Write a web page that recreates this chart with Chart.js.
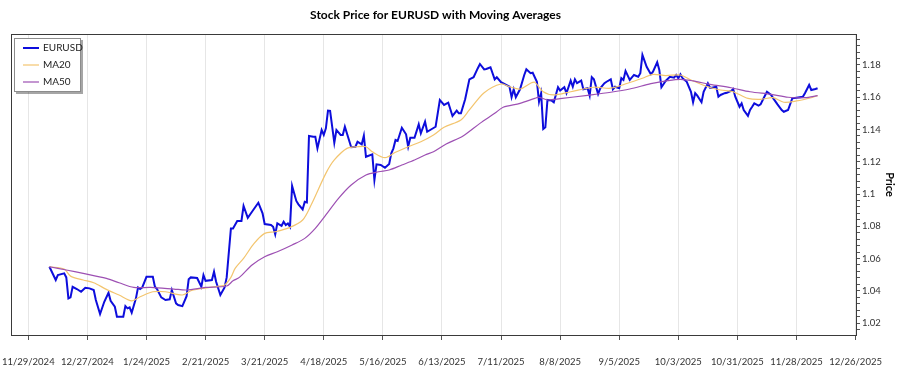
<!DOCTYPE html>
<html>
<head>
<meta charset="utf-8">
<title>Stock Price for EURUSD with Moving Averages</title>
<script src="https://cdn.jsdelivr.net/npm/chart.js@4.4.1/dist/chart.umd.min.js"></script>
<style>
  html, body { margin: 0; padding: 0; background: #fff; }
  #priceChart { display: block; }
</style>
</head>
<body>
<canvas id="priceChart" width="900" height="375"></canvas>
<script>
// Data
const priceDates = [
    '2024-12-09','2024-12-12','2024-12-13','2024-12-16','2024-12-17','2024-12-18','2024-12-19','2024-12-20','2024-12-22','2024-12-24',
    '2024-12-26','2024-12-28','2024-12-30','2024-12-31','2025-01-02','2025-01-04','2025-01-06','2025-01-07','2025-01-09','2025-01-10',
    '2025-01-13','2025-01-14','2025-01-15','2025-01-16','2025-01-17','2025-01-19','2025-01-20','2025-01-21','2025-01-22','2025-01-24',
    '2025-01-27','2025-01-28','2025-01-29','2025-01-31','2025-02-02','2025-02-04','2025-02-05','2025-02-07','2025-02-08','2025-02-10',
    '2025-02-12','2025-02-13','2025-02-14','2025-02-17','2025-02-19','2025-02-20','2025-02-21','2025-02-24','2025-02-25','2025-02-26',
    '2025-02-28','2025-03-02','2025-03-03','2025-03-05','2025-03-06','2025-03-08','2025-03-10','2025-03-11','2025-03-13','2025-03-15',
    '2025-03-18','2025-03-20','2025-03-21','2025-03-24','2025-03-25','2025-03-26','2025-03-27','2025-03-29','2025-03-30','2025-03-31',
    '2025-04-01','2025-04-02','2025-04-03','2025-04-05','2025-04-06','2025-04-08','2025-04-09','2025-04-10','2025-04-11','2025-04-13',
    '2025-04-14','2025-04-15','2025-04-17','2025-04-18','2025-04-19','2025-04-20','2025-04-21','2025-04-23','2025-04-24','2025-04-26',
    '2025-04-27','2025-04-28','2025-05-01','2025-05-03','2025-05-04','2025-05-06','2025-05-07','2025-05-08','2025-05-11','2025-05-12',
    '2025-05-13','2025-05-15','2025-05-17','2025-05-19','2025-05-20','2025-05-21','2025-05-22','2025-05-23','2025-05-25','2025-05-27',
    '2025-05-28','2025-05-29','2025-05-31','2025-06-02','2025-06-03','2025-06-05','2025-06-06','2025-06-10','2025-06-12','2025-06-14',
    '2025-06-16','2025-06-18','2025-06-20','2025-06-21','2025-06-22','2025-06-24','2025-06-26','2025-06-28','2025-06-30','2025-07-01',
    '2025-07-03','2025-07-04','2025-07-06','2025-07-08','2025-07-09','2025-07-11','2025-07-13','2025-07-15','2025-07-16','2025-07-17',
    '2025-07-18','2025-07-19','2025-07-20','2025-07-22','2025-07-23','2025-07-25','2025-07-26','2025-07-28','2025-07-29','2025-07-30',
    '2025-07-31','2025-08-01','2025-08-02','2025-08-04','2025-08-05','2025-08-07','2025-08-08','2025-08-10','2025-08-11','2025-08-13',
    '2025-08-14','2025-08-15','2025-08-16','2025-08-18','2025-08-19','2025-08-21','2025-08-22','2025-08-23','2025-08-24','2025-08-26',
    '2025-08-27','2025-08-29','2025-08-30','2025-09-01','2025-09-02','2025-09-03','2025-09-05','2025-09-06','2025-09-07','2025-09-08',
    '2025-09-10','2025-09-12','2025-09-14','2025-09-15','2025-09-16','2025-09-18','2025-09-20','2025-09-21','2025-09-23','2025-09-24',
    '2025-09-25','2025-09-27','2025-09-29','2025-10-01','2025-10-02','2025-10-03','2025-10-04','2025-10-05','2025-10-07','2025-10-09',
    '2025-10-10','2025-10-11','2025-10-12','2025-10-14','2025-10-15','2025-10-17','2025-10-18','2025-10-19','2025-10-21','2025-10-22',
    '2025-10-23','2025-10-25','2025-10-26','2025-10-28','2025-10-29','2025-10-30','2025-11-01','2025-11-02','2025-11-03','2025-11-05',
    '2025-11-06','2025-11-07','2025-11-08','2025-11-10','2025-11-11','2025-11-12','2025-11-14','2025-11-16','2025-11-17','2025-11-19',
    '2025-11-21','2025-11-22','2025-11-24','2025-11-26','2025-11-28','2025-12-01','2025-12-02','2025-12-04','2025-12-05','2025-12-07',
    '2025-12-08'
];
const priceValues = [
    1.0549,1.0467,1.0498,1.0508,1.0483,1.0353,1.0359,1.0425,1.0411,1.0394,
    1.0419,1.0415,1.0405,1.0343,1.0256,1.0332,1.0388,1.0338,1.0301,1.0239,
    1.0239,1.0305,1.0291,1.0297,1.0264,1.0353,1.0421,1.0411,1.0421,1.0487,
    1.0487,1.0425,1.0411,1.0359,1.0343,1.0347,1.0405,1.0322,1.0312,1.0305,
    1.0367,1.0471,1.0483,1.0479,1.0425,1.0498,1.0462,1.0467,1.0518,1.0456,
    1.0374,1.0421,1.0483,1.0787,1.0787,1.0833,1.0833,1.0926,1.0853,1.0890,
    1.0946,1.0880,1.0814,1.0808,1.0797,1.0750,1.0818,1.0803,1.0828,1.0808,
    1.0818,1.0797,1.1050,1.0957,1.0936,1.0905,1.0952,1.0948,1.1360,1.1355,
    1.1355,1.1283,1.1397,1.1366,1.1407,1.1517,1.1515,1.1318,1.1397,1.1366,
    1.1366,1.1417,1.1290,1.1293,1.1324,1.1308,1.1362,1.1231,1.1246,1.1087,
    1.1184,1.1180,1.1163,1.1186,1.1252,1.1283,1.1335,1.1329,1.1411,1.1370,
    1.1293,1.1349,1.1349,1.1432,1.1376,1.1448,1.1386,1.1417,1.1583,1.1552,
    1.1566,1.1484,1.1517,1.1500,1.1500,1.1587,1.1711,1.1724,1.1780,1.1806,
    1.1773,1.1775,1.1786,1.1711,1.1724,1.1693,1.1680,1.1665,1.1600,1.1649,
    1.1600,1.1625,1.1649,1.1738,1.1773,1.1749,1.1752,1.1696,1.1572,1.1625,
    1.1403,1.1414,1.1583,1.1579,1.1569,1.1662,1.1641,1.1662,1.1625,1.1703,
    1.1665,1.1711,1.1687,1.1703,1.1649,1.1656,1.1610,1.1724,1.1711,1.1620,
    1.1655,1.1687,1.1696,1.1711,1.1649,1.1665,1.1656,1.1718,1.1707,1.1763,
    1.1707,1.1738,1.1727,1.1749,1.1862,1.1789,1.1742,1.1758,1.1817,1.1769,
    1.1662,1.1701,1.1727,1.1721,1.1738,1.1718,1.1742,1.1718,1.1696,1.1634,
    1.1569,1.1625,1.1610,1.1569,1.1634,1.1687,1.1659,1.1659,1.1665,1.1603,
    1.1614,1.1625,1.1628,1.1639,1.1651,1.1603,1.1541,1.1562,1.1521,1.1484,
    1.1521,1.1541,1.1562,1.1548,1.1556,1.1583,1.1634,1.1614,1.1593,1.1556,
    1.1521,1.1510,1.1521,1.1593,1.1597,1.1603,1.1625,1.1676,1.1645,1.1651,
    1.1656
];

const ma20Dates = [
    '2024-12-09','2024-12-16','2024-12-19','2024-12-25','2024-12-30','2025-01-05','2025-01-11','2025-01-17','2025-01-21','2025-01-27',
    '2025-02-02','2025-02-10','2025-02-14','2025-02-18','2025-02-25','2025-03-02','2025-03-05','2025-03-07','2025-03-11','2025-03-16',
    '2025-03-21','2025-03-26','2025-04-02','2025-04-08','2025-04-12','2025-04-19','2025-04-23','2025-04-29','2025-05-04','2025-05-08',
    '2025-05-11','2025-05-17','2025-05-22','2025-05-28','2025-06-03','2025-06-09','2025-06-14','2025-06-22','2025-06-26','2025-07-03',
    '2025-07-11','2025-07-15','2025-07-20','2025-07-25','2025-07-27','2025-07-31','2025-08-05','2025-08-13','2025-08-24','2025-09-01',
    '2025-09-09','2025-09-16','2025-09-21','2025-09-27','2025-10-04','2025-10-09','2025-10-17','2025-10-23','2025-10-29','2025-11-05',
    '2025-11-11','2025-11-17','2025-11-22','2025-11-28','2025-12-05','2025-12-08'
];
const ma20Values = [
    1.0549,1.0535,1.0491,1.0467,1.0450,1.0409,1.0374,1.0338,1.0363,1.0394,
    1.0394,1.0374,1.0400,1.0411,1.0425,1.0436,1.0483,1.0539,1.0601,1.0694,
    1.0756,1.0766,1.0793,1.0839,1.0932,1.1128,1.1211,1.1283,1.1293,1.1293,
    1.1262,1.1225,1.1259,1.1293,1.1324,1.1366,1.1414,1.1459,1.1521,1.1628,
    1.1682,1.1665,1.1651,1.1687,1.1693,1.1634,1.1614,1.1634,1.1662,1.1656,
    1.1687,1.1718,1.1742,1.1734,1.1738,1.1707,1.1665,1.1645,1.1634,1.1593,
    1.1587,1.1597,1.1569,1.1577,1.1597,1.1610
];

const ma50Dates = [
    '2024-12-09','2024-12-17','2024-12-25','2025-01-05','2025-01-11','2025-01-18','2025-01-26','2025-02-06','2025-02-12','2025-02-21',
    '2025-03-03','2025-03-06','2025-03-09','2025-03-15','2025-03-21','2025-03-27','2025-04-03','2025-04-09','2025-04-14','2025-04-19',
    '2025-04-25','2025-05-01','2025-05-08','2025-05-14','2025-05-19','2025-05-25','2025-05-31','2025-06-05','2025-06-09','2025-06-15',
    '2025-06-23','2025-07-01','2025-07-08','2025-07-12','2025-07-20','2025-07-27','2025-07-29','2025-08-02','2025-08-08','2025-08-21',
    '2025-09-01','2025-09-10','2025-09-20','2025-09-28','2025-10-04','2025-10-10','2025-10-18','2025-10-28','2025-11-06','2025-11-16',
    '2025-11-24','2025-12-02','2025-12-08'
];
const ma50Values = [
    1.0549,1.0529,1.0508,1.0477,1.0450,1.0421,1.0421,1.0411,1.0405,1.0421,
    1.0430,1.0462,1.0483,1.0560,1.0611,1.0642,1.0684,1.0725,1.0787,1.0870,
    1.0973,1.1056,1.1118,1.1138,1.1149,1.1180,1.1211,1.1242,1.1262,1.1310,
    1.1360,1.1438,1.1500,1.1538,1.1562,1.1593,1.1600,1.1583,1.1591,1.1612,
    1.1631,1.1651,1.1684,1.1703,1.1711,1.1701,1.1680,1.1659,1.1634,1.1618,
    1.1600,1.1597,1.1610
];

// Axis ticks
const xTickLabels = ['11/29/2024','12/27/2024','1/24/2025','2/21/2025','3/21/2025','4/18/2025','5/16/2025','6/13/2025',
    '7/11/2025','8/8/2025','9/5/2025','10/3/2025','10/31/2025','11/28/2025','12/26/2025'];
const yTickLabels = [1.02, 1.04, 1.06, 1.08, 1.1, 1.12, 1.14, 1.16, 1.18];

// Date helpers (x axis is in days)
const DAY = 86400000;
const isoToDay = s => { const p = s.split('-'); return Date.UTC(+p[0], p[1] - 1, +p[2]) / DAY; };
const labelToDay = s => { const p = s.split('/'); return Date.UTC(+p[2], p[0] - 1, +p[1]) / DAY; };
const dayToLabel = d => { const t = new Date(Math.round(d) * DAY); return `${t.getUTCMonth() + 1}/${t.getUTCDate()}/${t.getUTCFullYear()}`; };
const toPoints = (dates, values) => dates.map((d, i) => ({ x: isoToDay(d), y: values[i] }));

const firstDay = isoToDay(priceDates[0]);
const lastDay = isoToDay(priceDates[priceDates.length - 1]);
const xPad = (lastDay - firstDay) * 0.05;

const FONT = 'Lato, "Noto Sans", sans-serif';
const seriesColors = { price: '#0d0ddc', ma20: '#f3c56f', ma50: '#9d50b3' };

// Plot frame + title + legend drawn on the canvas
const framePlugin = {
    id: 'frame',
    afterDraw(chart) {
        const { ctx, chartArea: a } = chart;
        ctx.save();
        ctx.strokeStyle = '#3a3a3a';
        ctx.lineWidth = 1;
        ctx.strokeRect(Math.round(a.left) + 0.5, Math.round(a.top) + 0.5, Math.round(a.right - a.left), Math.round(a.bottom - a.top));

        // title
        ctx.fillStyle = '#000';
        ctx.font = `bold 12px ${FONT}`;
        ctx.textAlign = 'center';
        ctx.textBaseline = 'middle';
        ctx.fillText('Stock Price for EURUSD with Moving Averages', (a.left + a.right) / 2 + 2, 15);

        // legend box
        const bx = a.left + 3, by = a.top + 4, bw = 67, bh = 54;
        ctx.fillStyle = 'rgba(0,0,0,0.35)';
        ctx.fillRect(bx + 2, by + 2, bw, bh);
        ctx.fillStyle = '#fff';
        ctx.fillRect(bx, by, bw, bh);
        ctx.strokeStyle = '#8c8c8c';
        ctx.strokeRect(bx + 0.5, by + 0.5, bw - 1, bh - 1);

        const items = [
            { text: 'EURUSD', color: seriesColors.price, width: 2 },
            { text: 'MA20', color: seriesColors.ma20, width: 1.2 },
            { text: 'MA50', color: seriesColors.ma50, width: 1.2 }
        ];
        ctx.font = `10px ${FONT}`;
        ctx.textAlign = 'left';
        items.forEach((it, i) => {
            const y = by + 10 + i * 17;
            ctx.strokeStyle = it.color;
            ctx.lineWidth = it.width;
            ctx.beginPath();
            ctx.moveTo(bx + 9, y);
            ctx.lineTo(bx + 25, y);
            ctx.stroke();
            ctx.fillStyle = '#222';
            ctx.fillText(it.text, bx + 29, y);
        });
        ctx.restore();
    }
};

// Price Chart
const ctx = document.getElementById('priceChart').getContext('2d');
new Chart(ctx, {
    type: 'line',
    data: {
        datasets: [
            {
                label: 'MA50',
                data: toPoints(ma50Dates, ma50Values),
                borderColor: seriesColors.ma50,
                borderWidth: 1.2,
                pointRadius: 0,
                tension: 0.3
            },
            {
                label: 'MA20',
                data: toPoints(ma20Dates, ma20Values),
                borderColor: seriesColors.ma20,
                borderWidth: 1.2,
                pointRadius: 0,
                tension: 0.3
            },
            {
                label: 'EURUSD',
                data: toPoints(priceDates, priceValues),
                borderColor: seriesColors.price,
                borderWidth: 2,
                pointRadius: 0,
                tension: 0
            }
        ]
    },
    options: {
        responsive: false,
        animation: false,
        layout: { padding: { left: 11, top: 34, right: 0, bottom: 0 } },
        plugins: {
            legend: { display: false },
            title: { display: false },
            tooltip: { enabled: false }
        },
        scales: {
            x: {
                type: 'linear',
                min: firstDay - xPad,
                max: lastDay + xPad,
                afterBuildTicks: scale => {
                    scale.ticks = xTickLabels.map(l => ({ value: labelToDay(l) }));
                },
                afterFit: scale => {
                    scale.height = 40;
                    scale.paddingLeft = 0;
                    scale.paddingRight = 0;
                },
                ticks: {
                    callback: v => dayToLabel(v),
                    maxRotation: 0,
                    autoSkip: false,
                    padding: 16,
                    color: '#333',
                    font: { family: FONT, size: 9.5 }
                },
                grid: {
                    color: '#e6e6e6',
                    tickColor: '#555',
                    tickLength: 5
                },
                border: { display: false }
            },
            y: {
                position: 'right',
                min: 1.0126,
                max: 1.1992,
                afterBuildTicks: scale => {
                    const ticks = [];
                    for (let i = 0; i <= 50; i++) {
                        const v = Math.round((1.012 + i * 0.004) * 1000) / 1000;
                        if (v >= scale.min && v <= scale.max) ticks.push({ value: v });
                    }
                    scale.ticks = ticks;
                },
                afterFit: scale => {
                    scale.width = 44;
                    scale.paddingTop = 0;
                    scale.paddingBottom = 0;
                },
                ticks: {
                    callback: v => {
                        const hit = yTickLabels.find(t => Math.abs(t - v) < 1e-6);
                        return hit === undefined ? '' : String(hit);
                    },
                    autoSkip: false,
                    padding: 2,
                    color: '#333',
                    font: { family: FONT, size: 9.5 }
                },
                grid: {
                    drawOnChartArea: false,
                    tickColor: '#555',
                    tickLength: 4
                },
                border: { display: false },
                title: {
                    display: true,
                    text: 'Price',
                    color: '#000',
                    font: { family: FONT, size: 11, weight: 'bold' },
                    padding: { top: 4, bottom: 4 }
                }
            }
        }
    },
    plugins: [framePlugin]
});
</script>
</body>
</html>
